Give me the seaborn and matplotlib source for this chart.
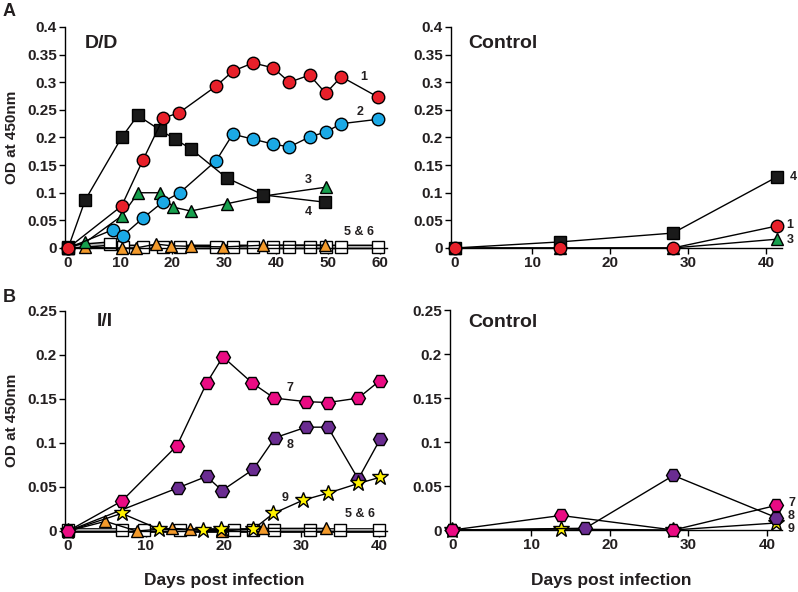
import matplotlib
matplotlib.use("Agg")
import matplotlib.pyplot as plt
import seaborn as sns
import pandas as pd

sns.set_theme(style="ticks")
plt.rcParams['font.family'] = ['Liberation Sans', 'DejaVu Sans']
plt.rcParams['font.weight'] = 'bold'

# ---------------- Panel A: D/D ----------------
a1_days = [0, 10.3, 14.4, 18.3, 21.4, 28.5, 31.7, 35.6, 39.5, 42.6, 46.5, 49.6, 52.6, 59.7]
a1_od = [0, 0.076, 0.159, 0.235, 0.245, 0.293, 0.320, 0.335, 0.326, 0.300, 0.313, 0.280, 0.310, 0.273]

a2_days = [0, 8.6, 10.5, 14.4, 18.2, 21.5, 28.5, 31.7, 35.6, 39.5, 42.6, 46.5, 49.6, 52.6, 59.7]
a2_od = [0, 0.033, 0.022, 0.054, 0.083, 0.100, 0.158, 0.206, 0.197, 0.188, 0.183, 0.201, 0.210, 0.225, 0.233]

a3_days = [0, 3.3, 10.3, 13.5, 17.6, 20.2, 23.6, 30.5, 37.6, 49.6]
a3_od = [0, 0.010, 0.058, 0.100, 0.100, 0.074, 0.067, 0.080, 0.094, 0.110]

a4_days = [0, 3.3, 10.3, 13.4, 17.6, 20.6, 23.7, 30.5, 37.6, 49.4]
a4_od = [0, 0.087, 0.200, 0.240, 0.214, 0.197, 0.179, 0.127, 0.096, 0.083]

a5_days = [0, 3.3, 10.3, 13.0, 17.0, 19.9, 23.6, 29.9, 37.6, 49.4]
a5_od = [0, 0.001, 0.0, 0.0, 0.007, 0.004, 0.003, 0.002, 0.005, 0.005]

a6_days = [0, 8.1, 10.5, 14.4, 18.3, 21.5, 28.5, 31.7, 35.6, 39.5, 42.6, 46.5, 49.6, 52.6, 59.7]
a6_od = [0.002, 0.008, 0.002, 0.002, 0.002, 0.002, 0.002, 0.002, 0.002, 0.002, 0.002, 0.002, 0.002, 0.002, 0.002]

# ---------------- Panel A: Control ----------------
ac_days = [0, 13.5, 28, 41.4]
ac1_od = [0, 0, 0, 0.040]
ac3_od = [0, 0, 0, 0.016]
ac4_od = [0, 0.011, 0.027, 0.129]

# ---------------- Panel B: I/I ----------------
b7_days = [0, 6.9, 14.0, 17.8, 19.9, 23.7, 26.5, 30.6, 33.4, 37.3, 40.1]
b7_od = [0, 0.034, 0.097, 0.168, 0.198, 0.168, 0.151, 0.147, 0.146, 0.151, 0.171]

b8_days = [0, 14.1, 17.8, 19.8, 23.8, 26.6, 30.6, 33.4, 37.3, 40.1]
b8_od = [0, 0.049, 0.062, 0.046, 0.070, 0.106, 0.118, 0.118, 0.059, 0.104]

b9_days = [0, 6.9, 11.7, 17.3, 19.6, 23.8, 26.4, 30.2, 33.4, 37.3, 40.1]
b9_od = [0, 0.020, 0.002, 0.001, 0.002, 0.002, 0.020, 0.035, 0.043, 0.054, 0.061]

b5_days = [0, 4.8, 8.8, 13.3, 15.7, 19.8, 25.0, 33.1]
b5_od = [0, 0.011, 0.0, 0.003, 0.002, 0.0, 0.003, 0.003]

b6_days = [0, 6.9, 9.8, 14.4, 21.3, 23.8, 26.5, 31.1, 35.0, 40.0]
b6_od = [0.001, 0.001, 0.001, 0.001, 0.001, 0.001, 0.001, 0.001, 0.001, 0.001]

# ---------------- Panel B: Control ----------------
bc7_days = [0, 13.8, 28.1, 41.2]
bc7_od = [0, 0.0165, 0, 0.028]
bc8_days = [0, 16.9, 28.1, 41.2]
bc8_od = [0, 0.002, 0.062, 0.014]
bc9_days = [0, 13.8, 28.1, 41.2]
bc9_od = [0, 0.001, 0.0, 0.008]

RED = "#e8202a"
BLUE = "#1ba9e6"
BLACK = "#1a1a1a"
GREEN = "#17a04e"
ORANGE = "#f39a2b"
PINK = "#ea0b83"
PURPLE = "#6a2c91"
YELLOW = "#fff200"

W, H = 798, 592
fig = plt.figure(figsize=(W / 100, H / 100), dpi=100)


def box(l, t, r, b):
    return [l / W, 1 - b / H, (r - l) / W, (b - t) / H]


ax_tl = fig.add_axes(box(65, 27, 387, 248))
ax_tr = fig.add_axes(box(451, 27, 782, 248))
ax_bl = fig.add_axes(box(65, 311, 387, 531))
ax_br = fig.add_axes(box(450, 310, 782, 530))


def series(ax, x, y, marker, fc, ms, lw=1.0, lc="black", z=2):
    df = pd.DataFrame({"x": x, "y": y})
    sns.lineplot(data=df, x="x", y="y", ax=ax, sort=False, estimator=None,
                 color=lc, lw=lw, marker=marker, markersize=ms,
                 markerfacecolor=fc, markeredgecolor="black",
                 markeredgewidth=1.0, clip_on=False, zorder=z)


def double_line(ax, x, y, z):
    df = pd.DataFrame({"x": x, "y": y})
    sns.lineplot(data=df, x="x", y="y", ax=ax, sort=False, estimator=None,
                 color="black", lw=3.4, clip_on=False, zorder=z)
    sns.lineplot(data=df, x="x", y="y", ax=ax, sort=False, estimator=None,
                 color="#b8b8b8", lw=1.3, clip_on=False, zorder=z,
                 marker="s", markersize=8.5, markerfacecolor="white",
                 markeredgecolor="black", markeredgewidth=1.0)


# Panel A left
double_line(ax_tl, a6_days, a6_od, 2)
series(ax_tl, a5_days, a5_od, "^", ORANGE, 8.5, z=3)
series(ax_tl, a3_days, a3_od, "^", GREEN, 9, z=4)
series(ax_tl, a2_days, a2_od, "o", BLUE, 9, z=5)
series(ax_tl, a4_days, a4_od, "s", BLACK, 8.5, z=6)
series(ax_tl, a1_days, a1_od, "o", RED, 9, z=7)

# Panel A control
series(ax_tr, ac_days, ac4_od, "s", BLACK, 9, z=3)
series(ax_tr, ac_days, ac3_od, "^", GREEN, 9, z=4)
series(ax_tr, ac_days, ac1_od, "o", RED, 9, z=5)

# Panel B left
double_line(ax_bl, b6_days, b6_od, 2)
series(ax_bl, b5_days, b5_od, "^", ORANGE, 8.5, z=3)
series(ax_bl, b8_days, b8_od, "H", PURPLE, 10, z=4)
series(ax_bl, b9_days, b9_od, "*", YELLOW, 12, z=5)
series(ax_bl, b7_days, b7_od, "H", PINK, 10, z=6)

# Panel B control
series(ax_br, bc9_days, bc9_od, "*", YELLOW, 12, z=3)
series(ax_br, bc8_days, bc8_od, "H", PURPLE, 10, z=4)
series(ax_br, bc7_days, bc7_od, "H", PINK, 10, z=5)

# axes styling
ax_tl.set_xlim(-0.6, 61.4)
ax_tr.set_xlim(-0.45, 42.0)
ax_bl.set_xlim(-0.4, 41.0)
ax_br.set_xlim(-0.3, 41.9)
for ax in (ax_tl, ax_tr):
    ax.set_ylim(0, 0.4)
    ax.set_yticks([0, 0.05, 0.1, 0.15, 0.2, 0.25, 0.3, 0.35, 0.4])
    ax.set_yticklabels(["0", "0.05", "0.1", "0.15", "0.2", "0.25", "0.3", "0.35", "0.4"])
for ax in (ax_bl, ax_br):
    ax.set_ylim(0, 0.25)
    ax.set_yticks([0, 0.05, 0.1, 0.15, 0.2, 0.25])
    ax.set_yticklabels(["0", "0.05", "0.1", "0.15", "0.2", "0.25"])
ax_tl.set_xticks([0, 10, 20, 30, 40, 50, 60])
for ax in (ax_tr, ax_bl, ax_br):
    ax.set_xticks([0, 10, 20, 30, 40])

for ax in (ax_tl, ax_tr, ax_bl, ax_br):
    ax.set_xlabel("")
    ax.set_ylabel("")
    sns.despine(ax=ax)
    for s in ("left", "bottom"):
        ax.spines[s].set_color("black")
        ax.spines[s].set_linewidth(1.0)
    ax.tick_params(axis="both", direction="out", length=4, width=1.0,
                   color="black", labelsize=11, labelcolor="#231f20", pad=2)
    for lab in ax.get_xticklabels() + ax.get_yticklabels():
        lab.set_fontweight("bold")
    ax.set_facecolor("white")

txt = dict(fontsize=9, fontweight="bold", color="#231f20", ha="center", va="center")
big = dict(fontsize=14, fontweight="bold", color="#231f20", ha="left", va="center")

ax_tl.text(3.2, 0.371, "D/D", **big)
ax_tl.text(56.9, 0.31, "1", **txt)
ax_tl.text(56.2, 0.246, "2", **txt)
ax_tl.text(46.2, 0.123, "3", **txt)
ax_tl.text(46.2, 0.065, "4", **txt)
ax_tl.text(56.0, 0.029, "5 & 6", **txt)

ax_tr.text(1.7, 0.371, "Control", **big)
ax_tr.text(43.4, 0.128, "4", clip_on=False, **txt)
ax_tr.text(43.0, 0.042, "1", clip_on=False, **txt)
ax_tr.text(43.0, 0.015, "3", clip_on=False, **txt)

ax_bl.text(3.7, 0.2375, "I/I", **big)
ax_bl.text(28.5, 0.1625, "7", **txt)
ax_bl.text(28.5, 0.098, "8", **txt)
ax_bl.text(27.9, 0.0375, "9", **txt)
ax_bl.text(37.5, 0.019, "5 & 6", **txt)

ax_br.text(2.0, 0.236, "Control", **big)
ax_br.text(43.1, 0.031, "7", clip_on=False, **txt)
ax_br.text(43.1, 0.016, "8", clip_on=False, **txt)
ax_br.text(43.1, 0.001, "9", clip_on=False, **txt)

fig.text(9 / W, 1 - 12 / H, "A", fontsize=13, fontweight="bold", color="#231f20", ha="center", va="center")
fig.text(9 / W, 1 - 297 / H, "B", fontsize=13, fontweight="bold", color="#231f20", ha="center", va="center")

lab = dict(fontsize=11, fontweight="bold", color="#231f20", rotation=90, ha="center", va="center")
fig.text(12 / W, 1 - 137 / H, "OD at 450nm", **lab)
fig.text(12 / W, 1 - 420 / H, "OD at 450nm", **lab)

xl = dict(fontsize=12.5, fontweight="bold", color="#231f20", ha="center", va="center")
fig.text(224 / W, 1 - 580 / H, "Days post infection", **xl)
fig.text(611 / W, 1 - 580 / H, "Days post infection", **xl)

fig.savefig("out.png", dpi=100, facecolor="white")
